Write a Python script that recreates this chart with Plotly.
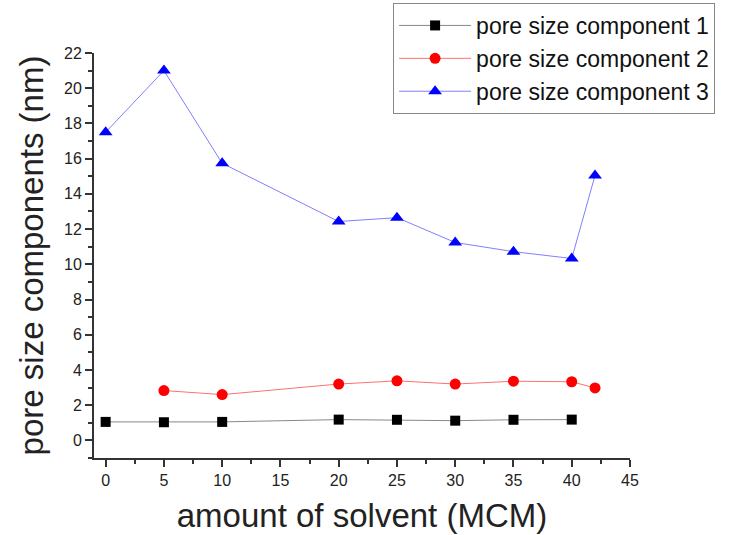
import plotly.graph_objects as go

solvent = [0, 5, 10, 20, 25, 30, 35, 40, 42]
comp1_x = [0, 5, 10, 20, 25, 30, 35, 40]
comp1 = [1.05, 1.03, 1.05, 1.18, 1.17, 1.12, 1.17, 1.18]
comp2_x = [5, 10, 20, 25, 30, 35, 40, 42]
comp2 = [2.83, 2.6, 3.2, 3.38, 3.2, 3.36, 3.33, 2.98]
comp3_x = [0, 5, 10, 20, 25, 30, 35, 40, 42]
comp3 = [17.5, 21.0, 15.74, 12.43, 12.65, 11.24, 10.72, 10.33, 15.05]
names = ["pore size component 1", "pore size component 2", "pore size component 3"]

fig = go.Figure()
fig.add_trace(go.Scatter(x=comp1_x, y=comp1, name=names[0], mode="lines+markers",
                         line=dict(color="#888888", width=1),
                         marker=dict(symbol="square", size=10, color="black")))
fig.add_trace(go.Scatter(x=comp2_x, y=comp2, name=names[1], mode="lines+markers",
                         line=dict(color="#ff7070", width=1),
                         marker=dict(symbol="circle", size=11, color="red")))
fig.add_trace(go.Scatter(x=comp3_x, y=comp3, name=names[2], mode="lines+markers",
                         line=dict(color="#8080ff", width=1),
                         marker=dict(symbol="triangle-up", size=12, color="blue")))

axis_common = dict(showgrid=False, zeroline=False, showline=True, linecolor="#333333",
                   linewidth=2, ticks="outside", tickcolor="#333333", tickwidth=1.5,
                   ticklen=7, tickfont=dict(family="Liberation Sans, Arial", size=16, color="#222222"),
                   mirror=False)

fig.update_layout(
    width=732, height=535,
    margin=dict(l=94, r=102, t=53, b=77, autoexpand=False),
    paper_bgcolor="white", plot_bgcolor="white",
    font=dict(family="Liberation Sans, Arial", color="#222222"),
    xaxis=dict(range=[-1, 45], tickmode="linear", tick0=0, dtick=5,
               minor=dict(ticks="outside", dtick=2.5, tick0=0, ticklen=4, tickcolor="#333333", tickwidth=1.5),
               title=dict(text="amount of solvent (MCM)", font=dict(size=33), standoff=16),
               **axis_common),
    yaxis=dict(range=[-1, 22], tickmode="linear", tick0=0, dtick=2,
               minor=dict(ticks="outside", dtick=1, tick0=0, ticklen=4, tickcolor="#333333", tickwidth=1.5),
               title=dict(text="pore size components (nm)", font=dict(size=33), standoff=10),
               **axis_common),
    legend=dict(x=0.558, y=1.1235, xanchor="left", yanchor="top",
                bordercolor="#888888", borderwidth=1, bgcolor="white",
                font=dict(size=23, family="Liberation Sans, Arial", color="#111111"),
                itemwidth=72, tracegroupgap=0),
    showlegend=True,
)

fig.write_html("out.html")
